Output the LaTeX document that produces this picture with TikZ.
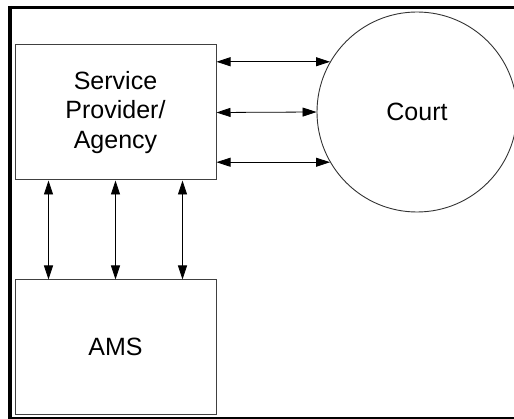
\documentclass[tikz,border=0pt]{standalone}
\usepackage{fontspec}
\setmainfont{Liberation Sans}
\usepackage{tikz}
\usetikzlibrary{arrows.meta}
\tikzset{box/.style={draw=black!75, line width=1pt, minimum width=201pt, minimum height=135pt, inner sep=0pt, align=center, font=\fontsize{25}{29.5}\selectfont}}
\tikzset{ring/.style={circle, draw=black!80, line width=0.9pt, minimum size=200pt, inner sep=0pt, font=\fontsize{25}{29.5}\selectfont}}
\tikzset{link/.style={<->, >={Triangle[length=14pt,width=9pt]}, line width=0.8pt}}

\begin{document}
\begin{tikzpicture}[x=1pt, y=-1pt]
    \useasboundingbox (0,0) rectangle (514,419);
    % outer frame, heavy on top and left
    \draw[line width=3.5pt] (8,7.5) -- (514,7.5);
    \draw[line width=4pt] (10,6) -- (10,418.5);
    \draw[line width=1.5pt] (8,417.8) -- (514,417.8);

    \node[box] (agency) at (115.5,112.5) {Service\\Provider/\\Agency};
    \node[box, minimum height=134pt] (ams) at (115.5,347) {AMS};
    \node[ring] (court) at (417,112) {Court};

    % agency <-> court
    \draw[link] (agency.east |- court.150) -- (court.150);
    \draw[link] (agency.east) -- (court.west);
    \draw[link] (agency.east |- court.210) -- (court.210);

    % agency <-> ams
    \draw[link] ([xshift=-67pt]agency.south) -- ([xshift=-67pt]ams.north);
    \draw[link] (agency.south) -- (ams.north);
    \draw[link] ([xshift=67pt]agency.south) -- ([xshift=67pt]ams.north);
\end{tikzpicture}
\end{document}
